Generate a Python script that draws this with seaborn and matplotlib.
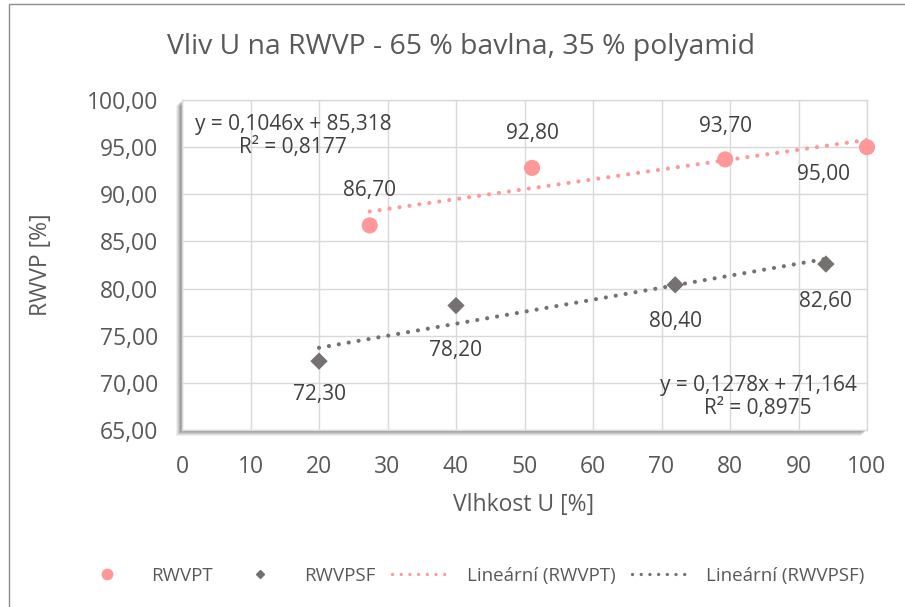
import numpy as np
import pandas as pd
import matplotlib
matplotlib.use("Agg")
import matplotlib.pyplot as plt
import seaborn as sns
from matplotlib.patches import Rectangle
from matplotlib.lines import Line2D
from matplotlib.ticker import FuncFormatter, MultipleLocator

# ---------------- data ----------------
rwvpt_x = [27.4, 51.1, 79.3, 100.0]
rwvpt_y = [86.70, 92.80, 93.70, 95.00]
rwvpsf_x = [20.0, 40.0, 72.0, 94.0]
rwvpsf_y = [72.30, 78.20, 80.40, 82.60]
series_names = ["RWVPT", "RWVPSF"]
trend_names = ["Lineární (RWVPT)", "Lineární (RWVPSF)"]
eq_rwvpt = "y = 0,1046x + 85,318\nR² = 0,8177"
eq_rwvpsf = "y = 0,1278x + 71,164\nR² = 0,8975"
title = "Vliv U na RWVP - 65 % bavlna, 35 % polyamid"
xlabel = "Vlhkost U [%]"
ylabel = "RWVP [%]"

# label offsets (pixels) - layout only
off_t = [(0, 35), (0, 34), (0, 33), (-44, -27)]
off_s = [(0, -33), (0, -45), (0, -37), (0, -37)]

pink = "#FF9999"
grey = "#767171"
txt = "#595959"
lbl = "#404040"

sns.set_style("white")
plt.rcParams["font.family"] = ["Open Sans", "DejaVu Sans"]

fig = plt.figure(figsize=(9.05, 6.07), dpi=100)
W, H = 905, 607
L, R, T, B = 182, 867, 100, 430
ax = fig.add_axes([L / W, 1 - B / H, (R - L) / W, (B - T) / H])

# outer chart border (partly cropped)
fig.patches.append(Rectangle((9 / W, -0.1), 1.2, 1 - 4 / H + 0.1, transform=fig.transFigure,
                             fill=False, edgecolor="#8C8C8C", linewidth=1.0, zorder=0))
# shadow for plot area
for i, a in enumerate([0.10, 0.14, 0.18, 0.24, 0.30]):
    d = 6 - i
    fig.patches.append(Rectangle(((L - d) / W, 1 - (B + d) / H), (R - L) / W, (B - T) / H,
                                 transform=fig.transFigure, facecolor="#707070", edgecolor="none",
                                 alpha=a, zorder=0.5))

ax.set_facecolor("white")
ax.set_zorder(1)

dt = pd.DataFrame({"x": rwvpt_x, "y": rwvpt_y})
ds = pd.DataFrame({"x": rwvpsf_x, "y": rwvpsf_y})

dot = (0, (0.01, 2.4))
lw = 3.0
sns.regplot(data=dt, x="x", y="y", ax=ax, scatter=False, ci=None, truncate=True,
            line_kws=dict(color=pink, linestyle=dot, linewidth=lw, dash_capstyle="round",
                          label=trend_names[0], zorder=2))
sns.regplot(data=ds, x="x", y="y", ax=ax, scatter=False, ci=None, truncate=True,
            line_kws=dict(color=grey, linestyle=dot, linewidth=lw, dash_capstyle="round",
                          label=trend_names[1], zorder=2))
sns.scatterplot(data=dt, x="x", y="y", ax=ax, color=pink, marker="o", s=135,
                edgecolor="none", label=series_names[0], zorder=3, clip_on=False)
sns.scatterplot(data=ds, x="x", y="y", ax=ax, color=grey, marker="D", s=78,
                edgecolor="none", label=series_names[1], zorder=3, clip_on=False)

for xv, yv, o in zip(rwvpt_x, rwvpt_y, off_t):
    ax.annotate(f"{yv:.2f}".replace(".", ","), (xv, yv), xytext=o, textcoords="offset pixels",
                ha="center", va="center", fontsize=15, color=lbl, zorder=4)
for xv, yv, o in zip(rwvpsf_x, rwvpsf_y, off_s):
    ax.annotate(f"{yv:.2f}".replace(".", ","), (xv, yv), xytext=o, textcoords="offset pixels",
                ha="center", va="center", fontsize=15, color=lbl, zorder=4)

ax.text((293 - L) / (R - L), 1 - (136 - T) / (B - T), eq_rwvpt, transform=ax.transAxes,
        ha="center", va="center", fontsize=15, color=lbl, linespacing=1.15, zorder=4)
ax.text((758 - L) / (R - L), 1 - (397 - T) / (B - T), eq_rwvpsf, transform=ax.transAxes,
        ha="center", va="center", fontsize=15, color=lbl, linespacing=1.15, zorder=4)

ax.set_xlim(0, 100)
ax.set_ylim(65, 100)
ax.xaxis.set_major_locator(MultipleLocator(10))
ax.yaxis.set_major_locator(MultipleLocator(5))
ax.yaxis.set_major_formatter(FuncFormatter(lambda v, p: f"{v:.2f}".replace(".", ",")))
ax.grid(True, color="#D9D9D9", linewidth=1.0, zorder=0)
ax.set_axisbelow(True)
for s in ax.spines.values():
    s.set_color("#D9D9D9")
    s.set_linewidth(1.0)
ax.tick_params(axis="both", length=0, labelsize=16.5, colors=txt)
ax.tick_params(axis="x", pad=18)
ax.tick_params(axis="y", pad=17)
ax.set_xlabel("")
ax.set_ylabel("")

fig.text(524 / W, 1 - 505 / H, xlabel, ha="center", va="center", fontsize=16.5, color=txt)
fig.text(41 / W, 1 - 265 / H, ylabel, ha="center", va="center", fontsize=16.5, color=txt,
         rotation=90)
fig.text(461 / W, 1 - 47 / H, title, ha="center", va="center", fontsize=20.4, color=txt)

# legend
if ax.legend_:
    ax.legend_.remove()
order = series_names + trend_names
leg_handles = [
    Line2D([], [], marker="o", color=pink, linestyle="none", markersize=7.5),
    Line2D([], [], marker="D", color=grey, linestyle="none", markersize=4.5),
    Line2D([], [], color=pink, linestyle=(0, (0.01, 2.6)), linewidth=2.4, dash_capstyle="round"),
    Line2D([], [], color=grey, linestyle=(0, (0.01, 2.6)), linewidth=2.4, dash_capstyle="round"),
]
fig.legend(leg_handles, order, loc="center", bbox_to_anchor=(471 / W, 1 - 576 / H), ncol=4,
           frameon=False, fontsize=13.5, labelcolor=txt, handlelength=3.2, columnspacing=0.9,
           handletextpad=0.75)

fig.savefig("out.png", dpi=100)
